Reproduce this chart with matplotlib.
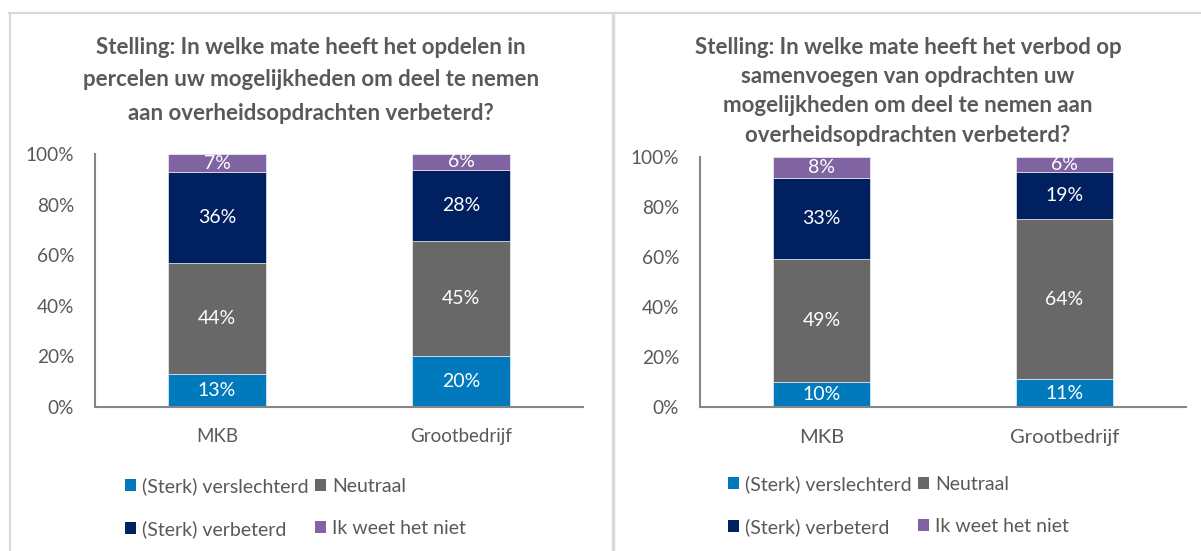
# Grafiek: opdelen in percelen / verbod op samenvoegen

import matplotlib.pyplot as plt
from matplotlib.lines import Line2D
from matplotlib.patches import Patch
from matplotlib.ticker import PercentFormatter

plt.rcParams['font.family'] = ['Lato', 'DejaVu Sans']

# DATA
categorieen = ['MKB', 'Grootbedrijf']
reeksen = ['(Sterk) verslechterd', 'Neutraal', '(Sterk) verbeterd', 'Ik weet het niet']
kleuren = ['#0079BD', '#686868', '#002060', '#8064A2']

# Stelling 1: opdelen in percelen (percentages)
percelen_verslechterd = [12.9, 20.1]
percelen_neutraal = [44.0, 45.4]
percelen_verbeterd = [35.9, 28.2]
percelen_weet_niet = [7.2, 6.3]

# Stelling 2: verbod op samenvoegen (percentages)
samenvoegen_verslechterd = [10.1, 11.1]
samenvoegen_neutraal = [49.1, 64.1]
samenvoegen_verbeterd = [32.6, 18.7]
samenvoegen_weet_niet = [8.2, 6.1]

titel_percelen = ['Stelling: In welke mate heeft het opdelen in',
                  'percelen uw mogelijkheden om deel te nemen',
                  'aan overheidsopdrachten verbeterd?']
titel_samenvoegen = ['Stelling: In welke mate heeft het verbod op',
                     'samenvoegen van opdrachten uw',
                     'mogelijkheden om deel te nemen aan',
                     'overheidsopdrachten verbeterd?']

y_ticks = [0, 20, 40, 60, 80, 100]

W, H = 1201, 551  # afmeting in pixels
TEKST = '#595959'
RAND = '#d9d9d9'


def fx(x):
    return x / W


def fy(y):
    return 1 - y / H


def teken_paneel(fig, box, waarden, titel, titel_x, titel_y0, titel_stap, legenda_xy, cat_size, cat_pad):
    x0, y0, x1, y1 = box
    ax = fig.add_axes([fx(x0), fy(y1), fx(x1 - x0), (y1 - y0) / H])

    onder = [0.0] * len(categorieen)
    pos = list(range(len(categorieen)))
    for naam, kleur, reeks in zip(reeksen, kleuren, waarden):
        bars = ax.bar(pos, reeks, width=0.4, bottom=onder, color=kleur,
                      edgecolor='white', linewidth=0.4, label=naam)
        ax.bar_label(bars, labels=['%.0f%%' % v for v in reeks], label_type='center',
                     color='white', fontsize=14)
        onder = [a + b for a, b in zip(onder, reeks)]

    ax.set_xlim(-0.5, len(categorieen) - 0.5)
    ax.set_ylim(0, 100)
    ax.set_yticks(y_ticks)
    ax.yaxis.set_major_formatter(PercentFormatter(decimals=0))
    ax.set_xticks(pos)
    ax.set_xticklabels(categorieen, fontsize=cat_size, color=TEKST)
    ax.tick_params(axis='y', length=0, pad=15, labelsize=13.7, labelcolor=TEKST)
    ax.tick_params(axis='x', length=0, pad=cat_pad)
    for kant in ['top', 'right']:
        ax.spines[kant].set_visible(False)
    for kant in ['left', 'bottom']:
        ax.spines[kant].set_color('#868686')
        ax.spines[kant].set_linewidth(1.5)

    # Titel regel voor regel
    for i, regel in enumerate(titel):
        fig.text(fx(titel_x), fy(titel_y0 + i * titel_stap), regel, ha='center', va='center',
                 fontsize=16, fontweight='bold', color=TEKST)

    # Legenda
    handles = [Patch(facecolor=k, edgecolor='none') for k in kleuren]
    volgorde = [0, 2, 1, 3]
    fig.legend([handles[i] for i in volgorde], [reeksen[i] for i in volgorde],
               loc='upper left', bbox_to_anchor=(fx(legenda_xy[0]), fy(legenda_xy[1])),
               ncol=2, frameon=False, fontsize=14, labelcolor=TEKST,
               handlelength=0.57, handleheight=0.57, handletextpad=0.3,
               columnspacing=0.35, labelspacing=1.3, borderpad=0, borderaxespad=0)
    return ax


fig = plt.figure(figsize=(W / 100, H / 100), dpi=100)
fig.patch.set_facecolor('white')

teken_paneel(fig, (95, 154, 583, 407),
             [percelen_verslechterd, percelen_neutraal, percelen_verbeterd, percelen_weet_niet],
             titel_percelen, 311, 47, 33, (125, 477), 13.5, 15)
teken_paneel(fig, (700, 157, 1186, 407),
             [samenvoegen_verslechterd, samenvoegen_neutraal, samenvoegen_verbeterd, samenvoegen_weet_niet],
             titel_samenvoegen, 908, 47, 29.5, (728, 475), 14.5, 16)

# Randen van de panelen
fig.add_artist(Line2D([fx(9), 1], [fy(13), fy(13)], color=RAND, linewidth=1.5))
fig.add_artist(Line2D([fx(9.5), fx(9.5)], [fy(13), 0], color=RAND, linewidth=1.5))
fig.add_artist(Line2D([fx(613), fx(613)], [fy(13), 0], color=RAND, linewidth=2.5))

fig.savefig('out.png', dpi=100)
